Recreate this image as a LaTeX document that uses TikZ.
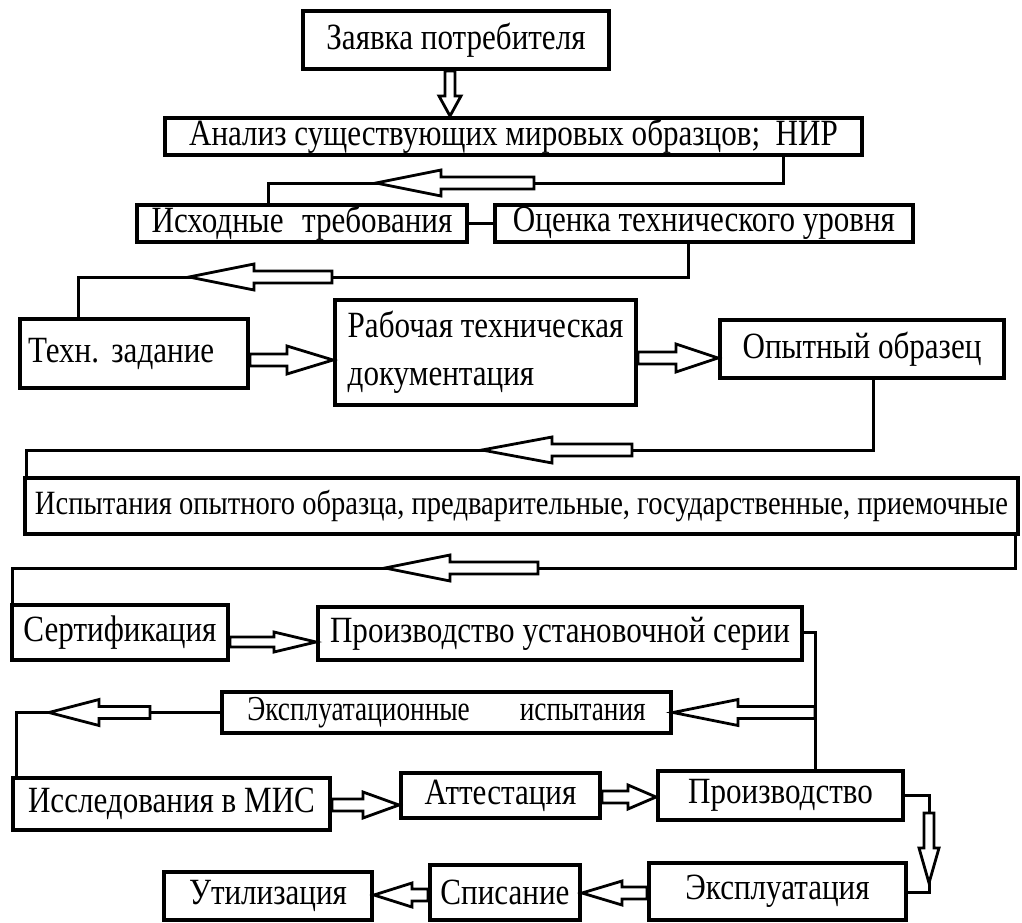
\documentclass[tikz,border=0pt]{standalone}
\usepackage{fontspec}
\setmainfont{Liberation Serif}
\newfontfamily\tnr[FakeStretch=0.84]{Liberation Serif}
\newfontfamily\tnrk[FakeStretch=0.78]{Liberation Serif}
\usetikzlibrary{calc}
\tikzset{
  box/.style={draw, line width=4pt, inner sep=0pt, font=\tnr\fontsize{37}{48}\selectfont},
  conn/.style={line width=3pt},
  harr/.style={draw, fill=white, line width=2.8pt, line join=miter},
}
\newcommand\harrow[5]{% from, to, half shaft, half head, head length
  \coordinate (hab) at ($(#2)!#5!(#1)$);
  \draw[harr] ($(#1)!#3!90:(#2)$) -- ($(hab)!#3!90:(#2)$) -- ($(hab)!#4!90:(#2)$) -- (#2)
     -- ($(hab)!#4!-90:(#2)$) -- ($(hab)!#3!-90:(#2)$) -- ($(#1)!#3!-90:(#2)$) -- cycle;}
\begin{document}
\begin{tikzpicture}[x=1pt,y=-1pt]
\useasboundingbox (0,0) rectangle (1022,923);
% boxes
\node[box, minimum width=306pt, minimum height=58pt] (a) at (456,40) {Заявка потребителя};
\node[box, minimum width=697pt, minimum height=37pt] (b) at (513.5,136.5) {Анализ существующих мировых образцов;\ \ НИР};
\node[box, minimum width=330pt, minimum height=37pt] (c) at (302,223.5) {Исходные\hspace{0.5em}требования};
\node[box, minimum width=418pt, minimum height=37pt] (d) at (704,223.5) {Оценка технического уровня};
\node[box, minimum width=228pt, minimum height=69pt, text width=212pt, align=left] (e) at (134,353.5) {Техн.\ задание};
\node[box, minimum width=301pt, minimum height=105pt, align=left] (f) at (485.5,352.5) {Рабочая техническая\\документация};
\node[box, minimum width=284pt, minimum height=58pt] (g) at (862,349) {Опытный образец};
\node[box, minimum width=993pt, minimum height=56pt, font=\tnr\fontsize{34}{40}\selectfont] (h) at (521.5,506) {Испытания опытного образца, предварительные, государственные, приемочные};
\node[box, minimum width=216pt, minimum height=55pt] (i) at (120,632.5) {Сертификация};
\node[box, minimum width=449pt, minimum height=41pt, font=\tnrk\fontsize{35}{40}\selectfont] (k) at (446.5,712.5) {Эксплуатационные\hspace{50pt}испытания};
\node[box, minimum width=484pt, minimum height=53pt] (j) at (560,633.5) {Производство установочной серии};
\node[box, minimum width=317pt, minimum height=52pt] (l) at (171.5,804) {Исследования в МИС};
\node[box, minimum width=199pt, minimum height=45pt] (m) at (500.5,795.5) {Аттестация};
\node[box, minimum width=245pt, minimum height=49pt] (n) at (780.5,795.5) {Производство};
\node[box, minimum width=257pt, minimum height=57pt] (o) at (777.5,891.5) {Эксплуатация};
\node[box, minimum width=150pt, minimum height=55pt] (p) at (505,892.5) {Списание};
\node[box, minimum width=208pt, minimum height=48pt] (q) at (268,896) {Утилизация};
% connector lines
\coordinate (p1) at (783,183); \coordinate (p2) at (268,183);
\draw[conn] (b.south -| p1) -- (p1) -- (p2) -- (c.north -| p2);
\draw[conn] (c.east) -- (d.west);
\coordinate (p3) at (688,277); \coordinate (p4) at (78,277);
\draw[conn] (d.south -| p3) -- (p3) -- (p4) -- (e.north -| p4);
\coordinate (p5) at (873,450); \coordinate (p6) at (26,450);
\draw[conn] (g.south -| p5) -- (p5) -- (p6) -- (h.north -| p6);
\coordinate (p7) at (1015,568); \coordinate (p8) at (12,568);
\draw[conn] (h.south -| p7) -- (p7) -- (p8) -- (i.north -| p8);
\coordinate (p9) at (815,632);
\draw[conn] (j.east |- p9) -- (p9) -- (p9 |- n.north);
\coordinate (p10) at (16,712.5);
\draw[conn] (k.west) -- (p10) -- (l.north -| p10);
\coordinate (p11) at (929,795); \coordinate (p12) at (929,892);
\draw[conn] (n.east |- p11) -- (p11) -- (p12) -- (p12 -| o.east);
% hollow arrows
\coordinate (h0s) at ($(a.south)+(-6,0)$); \coordinate (h0e) at (h0s |- b.north);
\harrow{h0s}{h0e}{5pt}{11pt}{20pt}
\coordinate (h1s) at (534,183); \coordinate (h1e) at (376,183);
\harrow{h1s}{h1e}{6pt}{13pt}{65pt}
\coordinate (h2s) at (332,277); \coordinate (h2e) at (189,277);
\harrow{h2s}{h2e}{6pt}{13pt}{65pt}
\coordinate (h3s) at ($(e.east)+(0,6.5)$); \coordinate (h3e) at (h3s -| f.west);
\harrow{h3s}{h3e}{6pt}{14pt}{46pt}
\coordinate (h4s) at ($(f.east)+(0,5.5)$); \coordinate (h4e) at (h4s -| g.west);
\harrow{h4s}{h4e}{6pt}{14pt}{42pt}
\coordinate (h5s) at (632,450); \coordinate (h5e) at (482,450);
\harrow{h5s}{h5e}{6pt}{13pt}{70pt}
\coordinate (h6s) at (538,568); \coordinate (h6e) at (385,568);
\harrow{h6s}{h6e}{6pt}{13pt}{65pt}
\coordinate (h7s) at ($(i.east)+(0,9.5)$); \coordinate (h7e) at (h7s -| j.west);
\harrow{h7s}{h7e}{5pt}{10pt}{42pt}
\coordinate (h8s) at (k.east -| p9); \coordinate (h8e) at (k.east);
\harrow{h8s}{h8e}{6pt}{13pt}{65pt}
\coordinate (h9s) at (150,712.5); \coordinate (h9e) at (49,712.5);
\harrow{h9s}{h9e}{6pt}{13pt}{50pt}
\coordinate (h10s) at ($(l.east)+(0,1)$); \coordinate (h10e) at (h10s -| m.west);
\harrow{h10s}{h10e}{6pt}{13pt}{36pt}
\coordinate (h11s) at ($(m.east)+(0,1.5)$); \coordinate (h11e) at (h11s -| n.west);
\harrow{h11s}{h11e}{6pt}{12pt}{28pt}
\coordinate (h12s) at (929,813); \coordinate (h12e) at (929,883);
\harrow{h12s}{h12e}{5pt}{10pt}{35pt}
\coordinate (h13s) at ($(o.west)+(0,1.5)$); \coordinate (h13e) at (h13s -| p.east);
\harrow{h13s}{h13e}{6pt}{12pt}{40pt}
\coordinate (h14s) at ($(p.west)+(0,2.5)$); \coordinate (h14e) at (h14s -| q.east);
\harrow{h14s}{h14e}{6pt}{12pt}{38pt}
\end{tikzpicture}
\end{document}
